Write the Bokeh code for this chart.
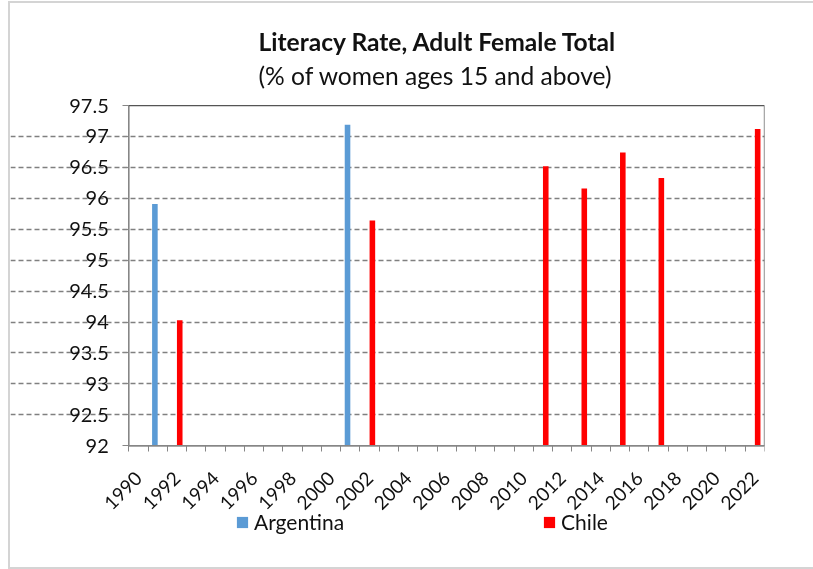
from bokeh.plotting import figure
from bokeh.models import (Range1d, FixedTicker, NumeralTickFormatter, Legend,
                          LegendItem, Label, BoxAnnotation)
from bokeh.embed import file_html
from bokeh.resources import INLINE
import math

# Literacy rate, adult female (% of women ages 15 and above)
arg_years = [1991, 2001]
arg_values = [95.91, 97.19]
chl_years = [1992, 2002, 2011, 2013, 2015, 2017, 2022]
chl_values = [94.03, 95.64, 96.52, 96.16, 96.74, 96.33, 97.12]

year_labels = list(range(1990, 2023, 2))
y_ticks = [92 + 0.5 * i for i in range(12)]

FONT = "Lato"
BAR_W = 0.29
X_MIN, X_MAX = 1989.5, 2022.5
Y_MIN, Y_MAX = 92, 97.5
# the frame covers the whole canvas (bar a right margin), so the axes, their
# labels, the headings and the legend all sit inside it
X_FRAME_START = 1983.36
Y_FRAME_START, Y_FRAME_END = 90.0, 99.15

p = figure(width=806, height=564, output_backend="svg", toolbar_location=None,
           x_range=Range1d(X_FRAME_START, X_MAX),
           y_range=Range1d(Y_FRAME_START, Y_FRAME_END),
           min_border_left=0, min_border_right=54,
           min_border_top=0, min_border_bottom=2)
p.styles = {"position": "fixed", "left": "8px", "top": "1px",
            "box-sizing": "content-box",
            "border-left": "2px solid #d4d4d4",
            "border-top": "2px solid #d4d4d4",
            "border-bottom": "2px solid #d4d4d4",
            "border-right": "none"}

p.outline_line_color = None
p.background_fill_color = "white"
p.border_fill_color = "white"

# plot-area border
p.add_layout(BoxAnnotation(left=X_MIN, right=X_MAX, bottom=Y_MIN, top=Y_MAX,
                           fill_alpha=0, line_color="#555555", line_alpha=1,
                           line_width=1.3, level="underlay"))

r_arg = p.vbar(x=[y - BAR_W / 2 for y in arg_years], top=arg_values, bottom=Y_MIN,
               width=BAR_W, fill_color="#5b9bd5", line_color=None)
r_chl = p.vbar(x=[y + BAR_W / 2 for y in chl_years], top=chl_values, bottom=Y_MIN,
               width=BAR_W, fill_color="#ff0000", line_color=None)

# x axis on the 92 line: labels every second year, ticks between years
p.xaxis.fixed_location = Y_MIN
p.xaxis.bounds = (X_MIN, X_MAX)
p.xaxis.ticker = FixedTicker(ticks=year_labels,
                             minor_ticks=[X_MIN + i for i in range(34)])
p.xaxis.major_tick_out = 0
p.xaxis.major_tick_in = 0
p.xaxis.minor_tick_out = 6
p.xaxis.minor_tick_in = 0
p.xaxis.minor_tick_line_color = "#868686"
p.xaxis.axis_line_color = "#868686"
p.xaxis.major_label_orientation = math.pi / 4
p.xaxis.major_label_text_font = FONT
p.xaxis.major_label_text_font_size = "19px"
p.xaxis.major_label_text_color = "#111111"
p.xaxis.major_label_standoff = 23

# y axis on the left edge of the plot area
p.yaxis.fixed_location = X_MIN
p.yaxis.bounds = (Y_MIN, Y_MAX)
p.yaxis.ticker = FixedTicker(ticks=y_ticks)
p.yaxis.formatter = NumeralTickFormatter(format="0.[0]")
p.yaxis.major_tick_out = 6
p.yaxis.major_tick_in = 0
p.yaxis.minor_tick_line_color = None
p.yaxis.major_tick_line_color = "#868686"
p.yaxis.axis_line_color = "#868686"
p.yaxis.major_label_text_font = FONT
p.yaxis.major_label_text_font_size = "20px"
p.yaxis.major_label_text_color = "#111111"
p.yaxis.major_label_standoff = 14

p.xgrid.grid_line_color = None
p.ygrid.bounds = (X_MIN, X_MAX)
p.ygrid.ticker = FixedTicker(ticks=y_ticks[1:-1])
p.ygrid.grid_line_color = "#808080"
p.ygrid.grid_line_dash = "5 3"
p.ygrid.grid_line_width = 1.3

# two-line heading above the plot area
p.add_layout(Label(x=248, y=528, x_units="screen", y_units="screen",
                   text="Literacy Rate, Adult Female Total",
                   text_font=FONT, text_font_size="24.6px",
                   text_font_style="bold", text_color="#111111",
                   text_align="left", text_baseline="middle"))
p.add_layout(Label(x=248, y=494, x_units="screen", y_units="screen",
                   text="(% of women ages 15 and above)",
                   text_font=FONT, text_font_size="24.6px",
                   text_color="#111111",
                   text_align="left", text_baseline="middle"))

legend = Legend(items=[LegendItem(label="Argentina", renderers=[r_arg]),
                       LegendItem(label="Chile", renderers=[r_chl])],
                orientation="horizontal", location=(225, 35),
                glyph_width=14, glyph_height=14, label_standoff=5,
                spacing=198, padding=0, margin=0,
                border_line_color=None, background_fill_alpha=0,
                label_text_font=FONT, label_text_font_size="21px",
                label_text_color="#111111")
p.add_layout(legend, "center")

open("out.html", "w").write(file_html(p, INLINE))
